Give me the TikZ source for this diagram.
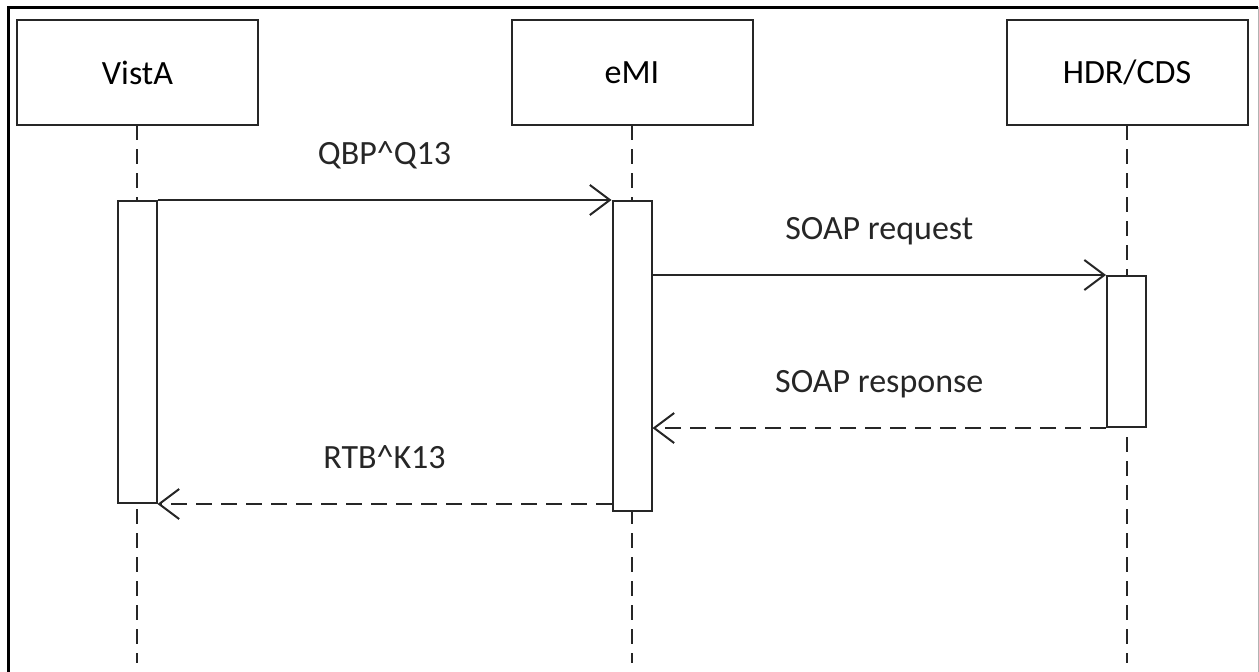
\documentclass[tikz,border=0pt]{standalone}
\usepackage{fontspec}
\setmainfont{Carlito}
\usepackage{xcolor}
\usepackage{tikz}
\usetikzlibrary{arrows.meta}
\definecolor{ink}{HTML}{262626}

\tikzset{
  actor/.style={draw=ink, line width=2pt, fill=white, minimum width=241pt, minimum height=105pt, inner sep=0pt},
  activ/.style={draw=ink, line width=2pt, fill=white, minimum width=39pt, inner sep=0pt},
  life/.style={ink, line width=2pt, dash pattern=on 15pt off 9pt},
  msg/.style={ink, line width=2pt, -{Straight Barb[length=20pt,width=30pt,line width=2pt]}},
  reply/.style={msg, dash pattern=on 16pt off 9pt},
  lbl/.style={midway, anchor=base, yshift=36pt, text=ink}
}

\begin{document}
\begin{tikzpicture}[x=1pt, y=-1pt, font=\fontsize{34}{40}\selectfont]
\useasboundingbox (0,0) rectangle (1259,672);
% frame
\draw [black, line width=3pt] (8,672) -- (8,7) -- (1258,7);
\draw [gray!60, line width=1pt] (1258,7) -- (1258,672);
% lifelines
\draw [life] (137,125) -- (137,663);
\draw [life] (632,125) -- (632,663);
\draw [life] (1127,125) -- (1127,663);
% actors
\node [actor] (vista) at (137.5,72.5) {VistA};
\node [actor] (emi) at (632,72.5) {eMI};
\node [actor] (hdr) at (1127,72.5) {HDR/CDS};
% activation bars
\node [activ, minimum height=302pt] (vA) at (137,352) {};
\node [activ, minimum height=310pt] (eA) at (632,356) {};
\node [activ, minimum height=151pt] (hA) at (1126.5,351.5) {};
% messages
\draw [msg] (vA.north east) -- (eA.north west) node[lbl]{QBP\^{}Q13};
\draw [msg] (eA.east |- hA.north west) -- (hA.north west) node[lbl]{SOAP request};
\draw [reply] (hA.south west) -- (eA.east |- hA.south west) node[lbl]{SOAP response};
\draw [reply] (eA.west |- vA.south east) -- (vA.south east) node[lbl]{RTB\^{}K13};
\end{tikzpicture}
\end{document}
